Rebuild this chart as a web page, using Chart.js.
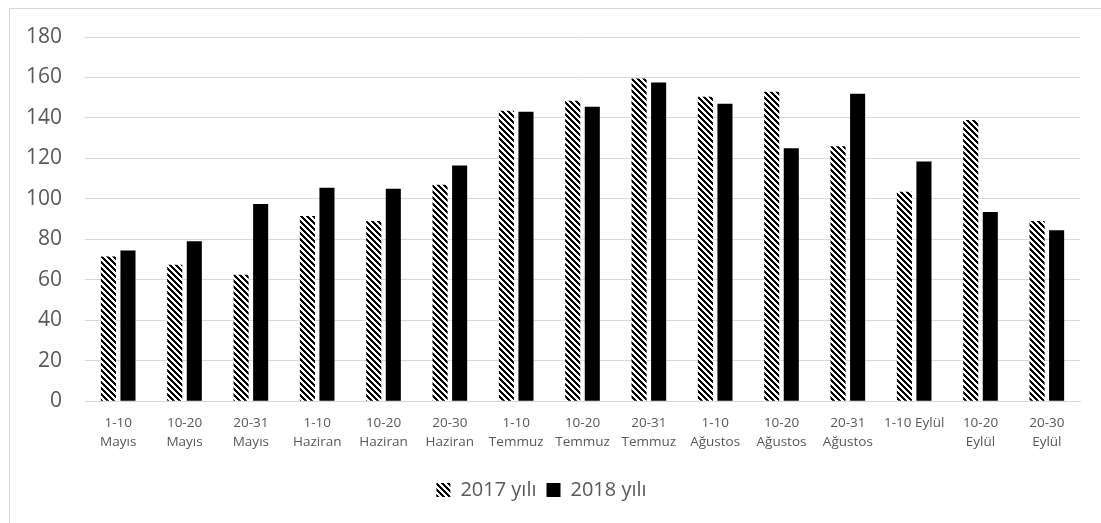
<!DOCTYPE html>
<html>
<head>
<meta charset="utf-8">
<script src="https://cdn.jsdelivr.net/npm/chart.js@4.4.1/dist/chart.umd.min.js"></script>
<style>
    html, body { margin: 0; padding: 0; background: #fff; }
    #wrap { position: relative; width: 1101px; height: 523px; }
    #frame {
        position: absolute; left: 9px; top: 8px; right: -5px; bottom: -5px;
        border-left: 1px solid #d9d9d9; border-top: 1px solid #d9d9d9;
    }
    #chart { position: absolute; left: 0; top: 0; }
</style>
</head>
<body>
<div id="wrap">
    <div id="frame"></div>
    <canvas id="chart" width="1101" height="523"></canvas>
</div>
<script>
// periods (10-day blocks), May to September
const periods = [
    ["1-10", "Mayıs"], ["10-20", "Mayıs"], ["20-31", "Mayıs"],
    ["1-10", "Haziran"], ["10-20", "Haziran"], ["20-30", "Haziran"],
    ["1-10", "Temmuz"], ["10-20", "Temmuz"], ["20-31", "Temmuz"],
    ["1-10", "Ağustos"], ["10-20", "Ağustos"], ["20-31", "Ağustos"],
    "1-10 Eylül", ["10-20", "Eylül"], ["20-30", "Eylül"],
];
const values2017 = [71.5, 67.5, 62.5, 91.5, 89, 107, 143.5, 148.5, 159.5, 150.5, 153, 126, 103.5, 139, 89];
const values2018 = [74.5, 79, 97.5, 105.5, 105, 116.5, 143, 145.5, 157.5, 147, 125, 152, 118.5, 93.5, 84.5];
const seriesNames = ["2017 yılı", "2018 yılı"];
const yMax = 180;
const yStep = 20;

// wide downward diagonal hatch for 2017
function makeHatch() {
    const size = 6;
    const c = document.createElement("canvas");
    c.width = size;
    c.height = size;
    const g = c.getContext("2d");
    g.fillStyle = "#ffffff";
    g.fillRect(0, 0, size, size);
    g.fillStyle = "#000000";
    for (let y = 0; y < size; y++) {
        for (let x = 0; x < size; x++) {
            if ((x - y + size * 2) % size < 3) g.fillRect(x, y, 1, 1);
        }
    }
    return g.createPattern(c, "repeat");
}

const ctx = document.getElementById("chart").getContext("2d");
const hatch = makeHatch();
const textColor = "#595959";
const gridColor = "#d9d9d9";

new Chart(ctx, {
    type: "bar",
    data: {
        labels: periods,
        datasets: [
            {
                label: seriesNames[0],
                backgroundColor: hatch,
                borderWidth: 0,
                data: values2017,
            },
            {
                label: seriesNames[1],
                backgroundColor: "#000000",
                borderWidth: 0,
                data: values2018,
            },
        ],
    },
    options: {
        responsive: false,
        animation: false,
        categoryPercentage: 0.59,
        barPercentage: 0.77,
        layout: {
            padding: { top: 37, right: 21, bottom: 13, left: 3 },
        },
        plugins: {
            tooltip: { enabled: false },
            legend: {
                position: "bottom",
                labels: {
                    boxWidth: 14,
                    boxHeight: 14,
                    padding: 10,
                    color: textColor,
                    font: { family: "'Open Sans'", size: 20 },
                },
            },
        },
        scales: {
            x: {
                grid: { display: false, drawTicks: false },
                border: { display: true, color: gridColor, width: 1 },
                ticks: {
                    color: textColor,
                    padding: 13,
                    maxRotation: 0,
                    autoSkip: false,
                    font: { family: "'Open Sans'", size: 13.5, lineHeight: 1.4 },
                },
                afterFit: (scale) => {
                    scale.height += 5;
                },
            },
            y: {
                min: 0,
                max: yMax,
                grid: { color: gridColor, lineWidth: 1, drawTicks: false },
                border: { display: false },
                ticks: {
                    stepSize: yStep,
                    color: textColor,
                    padding: 23,
                    font: { family: "'Open Sans'", size: 21 },
                },
            },
        },
    },
});
</script>
</body>
</html>
